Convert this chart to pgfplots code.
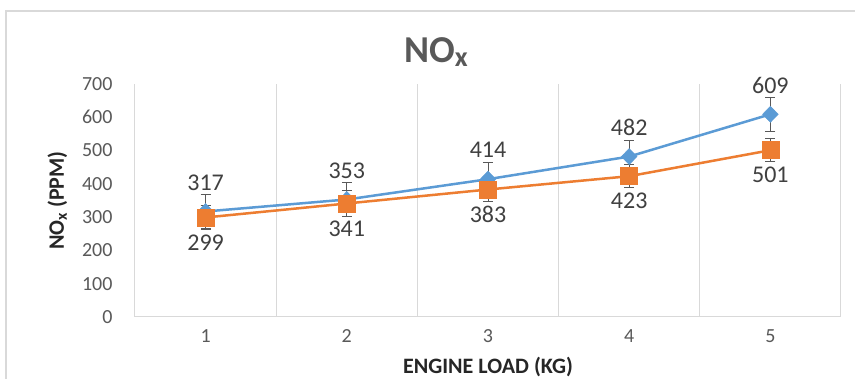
\documentclass[border=0pt]{standalone}
\usepackage{fontspec}
\setmainfont{Carlito}
\usepackage{pgfplots}
\pgfplotsset{compat=1.18}
\definecolor{exblue}{HTML}{5B9BD5}
\definecolor{exorange}{HTML}{ED7D31}
\definecolor{ticktxt}{HTML}{595959}
\definecolor{gridc}{HTML}{D9D9D9}
\definecolor{lbltxt}{HTML}{404040}
\begin{document}
\begin{tikzpicture}
\useasboundingbox (0pt,0pt) rectangle (855pt,379pt);
\clip (0pt,0pt) rectangle (855pt,379pt);
\fill[white] (0pt,0pt) rectangle (855pt,379pt);
\draw[gridc, line width=1.5pt] (6pt,-20pt) rectangle (900pt,368pt);
\node[anchor=base, text=ticktxt, font=\fontsize{38}{38}\selectfont\bfseries] at (436pt,316pt) {NO\raisebox{-4pt}{\fontsize{28}{28}\selectfont x}};
\begin{axis}[
 at={(135pt,62pt)}, anchor=south west, scale only axis, width=706pt, height=233pt,
 xmin=0.5, xmax=5.5, ymin=0, ymax=700,
 xtick={1,...,5}, ytick={0,100,...,700},
 minor xtick={0.5,1.5,...,5.5},
 xminorgrids, minor grid style={gridc, line width=1pt},
 axis x line=bottom, axis y line=left,
 x axis line style={gridc, line width=1pt, -},
 y axis line style={draw=none},
 major tick length=0pt, minor tick length=0pt,
 tick label style={text=ticktxt, font=\fontsize{20}{20}\selectfont},
 /pgf/number format/assume math mode=true,
 xticklabel style={yshift=-9pt},
 yticklabel style={xshift=-19pt},
 clip=false,
 xlabel={ENGINE LOAD (KG)},
 ylabel={NO\raisebox{-3pt}{\fontsize{16}{16}\selectfont x} (PPM)},
 every axis x label/.style={at={(axis description cs:0.5,-0.215)},anchor=center, font=\fontsize{22}{22}\selectfont\bfseries, text=black!85},
 every axis y label/.style={at={(axis description cs:-0.110,0.5)},rotate=90,anchor=center, font=\fontsize{22}{22}\selectfont\bfseries, text=black!85},
]
\addplot[exblue, line width=2.5pt, mark=diamond*, mark size=8pt,
  mark options={xscale=1.3, fill=exblue, draw=exblue, line width=0.5pt},
  nodes near coords,
  nodes near coords style={anchor=center, yshift=29pt, font=\fontsize{24}{24}\selectfont, text=lbltxt},
  error bars/.cd, y dir=both, y explicit,
  error bar style={color=ticktxt, line width=0.8pt},
  error mark options={rotate=90, mark size=5pt, color=ticktxt, line width=0.8pt}]
 coordinates {(1,317) +- (0,50) (2,353) +- (0,50) (3,414) +- (0,50) (4,482) +- (0,50) (5,609) +- (0,50)};
\addplot[exorange, line width=2.5pt, mark=square*, mark size=8.5pt,
  mark options={fill=exorange, draw=exorange, line width=0.5pt},
  nodes near coords,
  nodes near coords style={anchor=center, yshift=-25pt, font=\fontsize{24}{24}\selectfont, text=lbltxt},
  error bars/.cd, y dir=both, y explicit,
  error bar style={color=ticktxt, line width=0.8pt},
  error mark options={rotate=90, mark size=5pt, color=ticktxt, line width=0.8pt}]
 coordinates {(1,299) +- (0,35) (2,341) +- (0,40) (3,383) +- (0,35) (4,423) +- (0,35) (5,501) +- (0,35)};
\end{axis}
\end{tikzpicture}
\end{document}
